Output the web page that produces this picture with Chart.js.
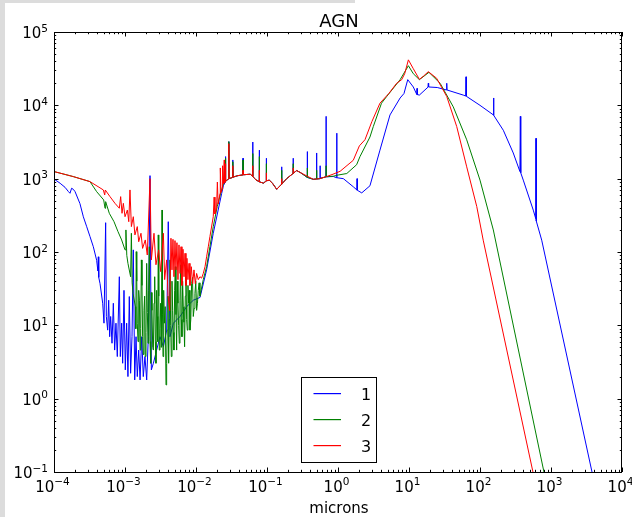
<!DOCTYPE html>
<html><head><meta charset="utf-8">
<script src="https://cdn.jsdelivr.net/npm/chart.js@4.4.1/dist/chart.umd.min.js"></script>
<style>html,body{margin:0;padding:0;background:#fff;overflow:hidden}canvas{display:block}</style>
</head><body>
<canvas id="c" width="632" height="517"></canvas>
<script>
const chartTitle = 'AGN';
const xAxisLabel = 'microns';
const seriesLabels = ['1', '2', '3'];
const seriesColors = ['#0000ff', '#008000', '#ff0000'];
const xTickExponents = [-4, -3, -2, -1, 0, 1, 2, 3, 4];
const yTickExponents = [-1, 0, 1, 2, 3, 4, 5];

// Series 1 (blue)
const wl1 = [1.0e-4,1.22e-4,1.43e-4,1.6e-4,1.68e-4,1.77e-4,1.87e-4,1.98e-4,2.32e-4,2.59e-4,2.89e-4,3.21e-4,3.58e-4,3.99e-4,4.15e-4,4.21e-4,4.27e-4,4.45e-4,4.85e-4,5.06e-4,5.34e-4,5.46e-4,5.70e-4,5.89e-4,6.08e-4,6.28e-4,6.56e-4,6.85e-4,7.15e-4,7.46e-4,7.79e-4,8.32e-4,8.59e-4,8.97e-4,9.27e-4,9.68e-4,1.01e-3,1.055e-3,1.10e-3,1.15e-3,1.20e-3,1.255e-3,1.31e-3,1.37e-3,1.43e-3,1.49e-3,1.56e-3,1.63e-3,1.72e-3,1.81e-3,1.91e-3,2.02e-3,2.13e-3,2.25e-3,2.35e-3,2.51e-3,2.79e-3,3.11e-3,3.47e-3,3.86e-3,4.07e-3,4.30e-3,4.80e-3,5.96e-3,7.39e-3,9.17e-3,1.14e-2,1.41e-2,1.75e-2,2.3e-2,2.43e-2,2.58e-2,2.6e-2,2.62e-2,2.7e-2,2.88e-2,2.9e-2,2.92e-2,3.0e-2,3.28e-2,3.3e-2,3.32e-2,3.9e-2,4.58e-2,4.6e-2,4.62e-2,5.8e-2,6.28e-2,6.3e-2,6.32e-2,7.0e-2,7.78e-2,7.8e-2,7.82e-2,8.9e-2,9.78e-2,9.8e-2,9.82e-2,0.108,0.12,0.137,0.1605,0.161,0.1615,0.189,0.2335,0.234,0.2345,0.262,0.3,0.369,0.37,0.371,0.449,0.499,0.5,0.501,0.55,0.559,0.56,0.561,0.679,0.68,0.681,0.86,0.955,0.96,0.965,1.19,1.64,1.85,1.86,1.87,2.16,2.82,3.9,5.4,7.5,8.5,9.6,11.5,12.9,13.0,13.1,14,18.5,18.7,18.9,25,33.7,34,34.3,58,63,63.6,64.2,100,153,155,157,213,294,365,370,375,407,563,610,615,620,740,3780,4470];
const flux1 = [990,865,762,665,632,740,716,665,457,302,221,163,118,77,55,86,45,37,20,10.7,251,13.2,8.6,22,7.0,13.2,5.7,20,4.6,10.7,3.75,46,3.75,10.7,3.04,30,2.47,10.7,2.0,24.7,2.22,7.0,107,1.8,7.0,2.0,4.6,1.8,7.0,2.0,3.75,1.8,7.0,1100,2.47,3.04,4.6,7.0,5.1,8.6,259,7.0,10.7,13.2,18,22,24,57,180,630,800,900,2000,920,950,990,3200,1000,1000,1040,1800,1050,1100,1125,1900,1130,1150,1080,3160,1070,960,910,2450,905,870,930,1900,935,955,860,716,840,1450,845,1000,1180,1900,1185,1290,1200,1040,2340,1040,980,990,2240,990,1000,1010,1500,1010,1060,7080,1060,1070,1030,4170,1030,1000,776,700,1000,695,640,800,2450,7400,12600,14500,22400,17800,14000,17000,14000,13800,17700,20000,17800,17500,16200,20000,16200,13800,13400,24500,13300,10000,7450,12600,7300,4570,2240,1250,7080,1200,955,372,285,3550,265,145,0.1,0.047];

// Series 2 (green)
const wl2 = [1.0e-4,1.87e-4,3.21e-4,3.99e-4,5.01e-4,5.23e-4,5.34e-4,6.01e-4,7.0e-4,7.96e-4,8.97e-4,1.0e-3,1.03e-3,1.06e-3,1.10e-3,1.20e-3,1.23e-3,1.26e-3,1.30e-3,1.40e-3,1.42e-3,1.44e-3,1.465e-3,1.49e-3,1.525e-3,1.56e-3,1.595e-3,1.63e-3,1.665e-3,1.70e-3,1.735e-3,1.77e-3,1.81e-3,1.85e-3,1.89e-3,1.93e-3,1.975e-3,2.02e-3,2.065e-3,2.11e-3,2.155e-3,2.20e-3,2.25e-3,2.30e-3,2.35e-3,2.40e-3,2.455e-3,2.51e-3,2.565e-3,2.62e-3,2.675e-3,2.73e-3,2.79e-3,2.85e-3,2.895e-3,2.94e-3,2.99e-3,3.04e-3,3.11e-3,3.18e-3,3.25e-3,3.32e-3,3.375e-3,3.43e-3,3.505e-3,3.58e-3,3.68e-3,3.78e-3,3.86e-3,3.94e-3,4.03e-3,4.12e-3,4.21e-3,4.30e-3,4.395e-3,4.49e-3,4.59e-3,4.69e-3,4.79e-3,4.89e-3,5.0e-3,5.11e-3,5.225e-3,5.34e-3,5.455e-3,5.57e-3,5.695e-3,5.82e-3,5.945e-3,6.07e-3,6.205e-3,6.34e-3,6.48e-3,6.62e-3,6.765e-3,6.91e-3,7.065e-3,7.22e-3,7.38e-3,7.54e-3,7.705e-3,7.87e-3,8.045e-3,8.22e-3,8.445e-3,8.67e-3,8.915e-3,9.16e-3,9.41e-3,9.66e-3,9.93e-3,1.02e-2,1.048e-2,1.077e-2,1.106e-2,1.136e-2,1.266e-2,1.41e-2,1.57e-2,1.75e-2,1.99e-2,2.29e-2,2.43e-2,2.58e-2,2.6e-2,2.62e-2,2.7e-2,2.88e-2,2.9e-2,2.92e-2,3.0e-2,3.28e-2,3.3e-2,3.32e-2,3.9e-2,4.58e-2,4.6e-2,4.62e-2,5.8e-2,6.28e-2,6.3e-2,6.32e-2,7.0e-2,7.78e-2,7.8e-2,7.82e-2,8.9e-2,9.78e-2,9.8e-2,9.82e-2,0.108,0.12,0.137,0.1605,0.161,0.1615,0.189,0.2335,0.234,0.2345,0.262,0.3,0.369,0.37,0.371,0.449,0.499,0.5,0.501,0.55,0.679,0.68,0.681,0.86,1.0,1.33,1.83,2.04,2.82,3.14,4.1,4.85,7.5,9.8,11.5,14,19.1,27.4,42,65,100,154,796,900];
const flux2 = [1250,1067,912,665,513,395,486,337,259,190,146,107,200,90,70,46,180,38,27,18,9,101,40,10.7,6,30,22,4.6,9,78,35,7.0,4,16,25,3.75,8,70,15,5.7,30,118,6,3.04,28,16,5,4.6,20,46,6,3.04,30,13.2,6,171,25,4.6,9,20,5,374,14,3.75,30,10.7,18,1.54,3,8.6,25,3.04,12,78,10,3.75,40,16,8,4.6,30,63,14,4.6,40,20,10,5.7,22,67,12,7.0,40,18,11,5.1,25,46,12,8.6,35,20,30,8.6,12,37,45,13.2,17,27,40,16,20,30,38,25,42,63,118,222,416,702,850,900,1900,920,950,990,3200,1000,1000,1040,1700,1050,1100,1125,1800,1130,1150,1080,2200,1070,960,910,2000,905,870,930,1600,935,955,860,716,840,1300,845,1000,1180,1600,1185,1290,1200,1040,1400,1040,980,990,1300,990,1000,1060,1500,1062,1080,1120,1175,1550,2000,3700,5130,10700,13200,22400,34700,27000,22400,28200,20000,9550,3390,955,200,0.1,0.057];

// Series 3 (red)
const wl3 = [1.0e-4,1.87e-4,3.21e-4,4.95e-4,5.18e-4,5.28e-4,6.15e-4,7.23e-4,8.32e-4,8.69e-4,9.08e-4,9.48e-4,1.0e-3,1.08e-3,1.13e-3,1.175e-3,1.23e-3,1.31e-3,1.38e-3,1.49e-3,1.56e-3,1.68e-3,1.77e-3,1.93e-3,2.06e-3,2.25e-3,2.35e-3,2.56e-3,2.73e-3,2.98e-3,3.18e-3,3.47e-3,3.62e-3,3.86e-3,4.04e-3,4.26e-3,4.44e-3,4.59e-3,4.74e-3,4.89e-3,5.06e-3,5.22e-3,5.39e-3,5.57e-3,5.76e-3,5.96e-3,6.15e-3,6.34e-3,6.56e-3,6.78e-3,7.0e-3,7.22e-3,7.46e-3,7.7e-3,7.97e-3,8.22e-3,8.59e-3,8.97e-3,9.37e-3,9.78e-3,1.02e-2,1.077e-2,1.136e-2,1.2e-2,1.266e-2,1.34e-2,1.41e-2,1.49e-2,1.57e-2,1.75e-2,1.8e-2,1.85e-2,1.95e-2,2.0e-2,2.05e-2,2.18e-2,2.2e-2,2.25e-2,2.35e-2,2.37e-2,2.43e-2,2.5e-2,2.52e-2,2.58e-2,2.6e-2,2.62e-2,2.7e-2,2.88e-2,2.9e-2,2.92e-2,3.0e-2,3.28e-2,3.3e-2,3.32e-2,3.9e-2,4.58e-2,4.6e-2,4.62e-2,5.8e-2,6.28e-2,6.3e-2,6.32e-2,7.0e-2,7.78e-2,7.8e-2,7.82e-2,8.9e-2,9.78e-2,9.8e-2,9.82e-2,0.108,0.12,0.137,0.1605,0.161,0.1615,0.189,0.2335,0.234,0.2345,0.262,0.3,0.449,0.55,0.693,0.85,1.07,1.64,2.0,2.4,3.0,3.9,5.2,6.7,7.9,8.7,9.8,11.5,14,16,18.7,24.5,34,47,65,90,111,557,631];
const flux3 = [1250,1067,912,702,600,700,569,461,395,569,337,461,303,374,259,702,222,303,171,222,138,180,112,146,91,1000,78,180,67,107,54,180,42,78,25,15.8,154,57,149,46,143,57,134,42,125,51,118,35,109,46,96,35,82,42,70,35,63,37,57,37,51,42,46,44,51,63,86,118,162,303,560,330,400,900,450,630,1400,650,720,1500,850,1800,870,900,1600,920,950,990,3000,1000,1000,1040,1500,1050,1100,1125,1300,1130,1150,1080,1500,1070,960,910,1300,905,870,930,1200,935,955,860,716,840,1000,845,1000,1180,1400,1185,1290,1200,980,1000,1070,1150,1260,1780,2800,3400,6000,10700,14500,20000,22400,27000,41700,31600,22600,25000,28800,23400,13200,5130,1450,417,145,0.1,0.057];

const FONT = '"DejaVu Sans", "Liberation Sans", sans-serif';

function toPoints(w, f) { return w.map((x, i) => ({ x: x, y: f[i] })); }

function supText(n) { return n < 0 ? '\u2212' + Math.abs(n) : String(n); }

const mplPlugin = {
  id: 'mpl',
  beforeDraw(chart) {
    const c = chart.ctx;
    c.save();
    c.fillStyle = '#ffffff';
    c.fillRect(0, 0, chart.width, chart.height);
    c.fillStyle = '#dcdcdc';
    c.fillRect(0, 0, 5, chart.height);
    c.fillRect(0, 0, 355, 3);
    c.restore();
  },
  afterDraw(chart) {
    const c = chart.ctx, a = chart.chartArea, xs = chart.scales.x, ys = chart.scales.y;
    c.save();
    c.strokeStyle = '#000';
    c.lineWidth = 1;
    c.strokeRect(a.left + 0.5, a.top + 0.5, a.right - a.left - 1, a.bottom - a.top);
    c.beginPath();
    const majL = 4.5, minL = 2.2;
    for (let k = 0; k < xTickExponents.length; k++) {
      const e = xTickExponents[k];
      const px = Math.round(xs.getPixelForValue(Math.pow(10, e))) + 0.5;
      c.moveTo(px, a.bottom); c.lineTo(px, a.bottom - majL);
      c.moveTo(px, a.top); c.lineTo(px, a.top + majL);
      if (k < xTickExponents.length - 1) {
        for (let m = 2; m <= 9; m++) {
          const q = Math.round(xs.getPixelForValue(m * Math.pow(10, e))) + 0.5;
          c.moveTo(q, a.bottom); c.lineTo(q, a.bottom - minL);
          c.moveTo(q, a.top); c.lineTo(q, a.top + minL);
        }
      }
    }
    for (let k = 0; k < yTickExponents.length; k++) {
      const e = yTickExponents[k];
      const py = Math.round(ys.getPixelForValue(Math.pow(10, e))) + 0.5;
      c.moveTo(a.left, py); c.lineTo(a.left + majL, py);
      c.moveTo(a.right, py); c.lineTo(a.right - majL, py);
      if (k < yTickExponents.length - 1) {
        for (let m = 2; m <= 9; m++) {
          const q = Math.round(ys.getPixelForValue(m * Math.pow(10, e))) + 0.5;
          c.moveTo(a.left, q); c.lineTo(a.left + minL, q);
          c.moveTo(a.right, q); c.lineTo(a.right - minL, q);
        }
      }
    }
    c.stroke();

    c.fillStyle = '#000';
    c.textAlign = 'left';
    c.textBaseline = 'alphabetic';
    const baseFont = '15px ' + FONT, supFont = '10.5px ' + FONT;
    for (const e of xTickExponents) {
      const px = xs.getPixelForValue(Math.pow(10, e));
      c.font = baseFont; const wb = c.measureText('10').width;
      c.font = supFont; const s = supText(e); const ws = c.measureText(s).width;
      const x0 = px - (wb + ws) / 2 - 1.5;
      c.font = baseFont; c.fillText('10', x0, a.bottom + 20);
      c.font = supFont; c.fillText(s, x0 + wb, a.bottom + 13);
    }
    for (const e of yTickExponents) {
      const py = ys.getPixelForValue(Math.pow(10, e));
      c.font = baseFont; const wb = c.measureText('10').width;
      c.font = supFont; const s = supText(e); const ws = c.measureText(s).width;
      const right = a.left - 6;
      c.font = baseFont; c.fillText('10', right - ws - wb, py + 6);
      c.font = supFont; c.fillText(s, right - ws, py - 0.5);
    }

    c.textAlign = 'center';
    c.font = '18px ' + FONT;
    c.fillText(chartTitle, (a.left + a.right) / 2 + 1, 27);
    c.font = '15px ' + FONT;
    c.fillText(xAxisLabel, (a.left + a.right) / 2 + 1, 513);

    const lw = 75, lh = 85;
    const lx0 = Math.round((a.left + a.right) / 2 - lw / 2) + 0.5;
    const ly1 = a.bottom - 10;
    const ly0 = Math.round(ly1 - lh) + 0.5;
    c.fillStyle = '#fff';
    c.fillRect(lx0, ly0, lw, lh);
    c.strokeStyle = '#000';
    c.lineWidth = 1;
    c.strokeRect(lx0, ly0, lw, lh);
    c.font = '16px ' + FONT;
    for (let i = 0; i < seriesLabels.length; i++) {
      const ry = Math.round(ly0 + 15.5 + i * 26.2);
      c.fillStyle = seriesColors[i];
      c.fillRect(lx0 + 12, ry, 27.5, 1.2);
      c.fillStyle = '#000';
      c.textAlign = 'center';
      c.fillText(seriesLabels[i], lx0 + 64.5, ry + 6.5);
    }
    c.restore();
  }
};

new Chart(document.getElementById('c'), {
  type: 'line',
  data: {
    datasets: [
      { label: seriesLabels[0], data: toPoints(wl1, flux1), borderColor: seriesColors[0], order: 2 },
      { label: seriesLabels[1], data: toPoints(wl2, flux2), borderColor: seriesColors[1], order: 1 },
      { label: seriesLabels[2], data: toPoints(wl3, flux3), borderColor: seriesColors[2], order: 0 }
    ]
  },
  options: {
    responsive: false,
    animation: false,
    devicePixelRatio: 1,
    elements: { point: { radius: 0 }, line: { borderWidth: 1, tension: 0, fill: false } },
    layout: { padding: { left: 54, right: 10, top: 32, bottom: 45 } },
    scales: {
      x: { type: 'logarithmic', min: 1e-4, max: 1e4, display: false },
      y: { type: 'logarithmic', min: 0.1, max: 1e5, display: false }
    },
    plugins: { legend: { display: false }, tooltip: { enabled: false }, title: { display: false } }
  },
  plugins: [mplPlugin]
});
</script>
</body></html>
